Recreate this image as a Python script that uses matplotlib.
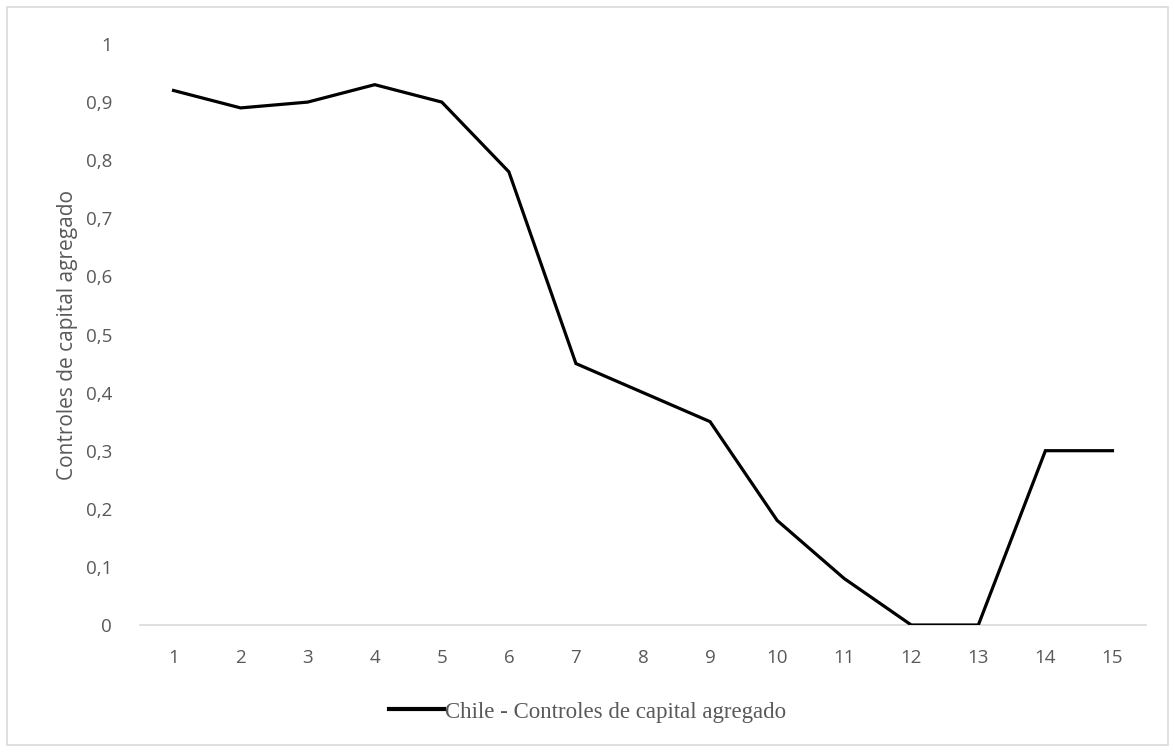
import matplotlib
matplotlib.use('Agg')
import matplotlib.pyplot as plt
from matplotlib.patches import Rectangle
from matplotlib.lines import Line2D

# dados da serie
periodos = list(range(1, 16))
controles = [0.92, 0.89, 0.90, 0.93, 0.90, 0.78, 0.45, 0.40, 0.35, 0.18, 0.08, 0.0, 0.0, 0.30, 0.30]
y_ticks = [0, 0.1, 0.2, 0.3, 0.4, 0.5, 0.6, 0.7, 0.8, 0.9, 1]
y_tick_labels = ['0', '0,1', '0,2', '0,3', '0,4', '0,5', '0,6', '0,7', '0,8', '0,9', '1']
serie_label = 'Chile - Controles de capital agregado'
y_label = 'Controles de capital agregado'

cinza = '#595959'

fig = plt.figure(figsize=(11.75, 7.52), dpi=100)
ax = fig.add_axes([140 / 1175, 1 - 625 / 752, (1146 - 140) / 1175, (625 - 44) / 752])

ax.plot(periodos, controles, color='black', linewidth=2.3, solid_joinstyle='miter')

ax.set_xlim(0.5, 15.5)
ax.set_ylim(0, 1)
ax.set_xticks(periodos)
ax.set_xticklabels([str(p) for p in periodos], fontsize=13.5, color=cinza, family='Open Sans')
ax.set_yticks(y_ticks)
ax.set_yticklabels(y_tick_labels, fontsize=13.5, color=cinza, family='Open Sans')
ax.tick_params(axis='both', length=0)
ax.tick_params(axis='x', pad=17)
ax.tick_params(axis='y', pad=20)

for lado in ['top', 'right', 'left']:
    ax.spines[lado].set_visible(False)
ax.spines['bottom'].set_color('#d9d9d9')
ax.spines['bottom'].set_linewidth(1.2)
ax.spines['bottom'].set_zorder(0)

ax.set_ylabel(y_label, fontsize=15, color=cinza, family='Open Sans', labelpad=6)

# legenda embaixo
handle = Line2D([], [], color='black', linewidth=3)
fig.legend([handle], [serie_label], loc='center', bbox_to_anchor=(0.5, 1 - 712 / 752),
           frameon=False, handlelength=2.4, handletextpad=0.05,
           prop={'family': 'Liberation Serif', 'size': 16.5}, labelcolor=cinza)

# borda da figura
fig.patches.append(Rectangle((7 / 1175, 7 / 752), 1 - 14 / 1175, 1 - 14 / 752,
                             transform=fig.transFigure, fill=False,
                             edgecolor='#d9d9d9', linewidth=1.2))

fig.savefig('out.png', dpi=100, facecolor='white')
